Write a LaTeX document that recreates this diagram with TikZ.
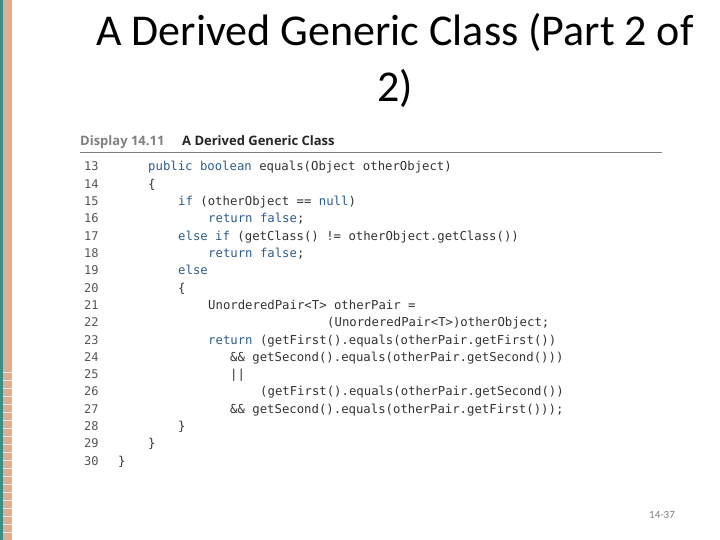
\documentclass[tikz,border=0pt]{standalone}
\usepackage{fontspec}
\setmainfont{Carlito}
\newfontfamily\codefont{DejaVu Sans Mono}
\newfontfamily\hdfont{Open Sans}
\definecolor{kw}{HTML}{2F5E8C}
\definecolor{tx}{HTML}{333333}
\definecolor{num}{HTML}{555555}
\definecolor{salmon}{HTML}{E2AC92}
\definecolor{teal}{HTML}{3E8E86}
\begin{document}
\begin{tikzpicture}[x=1pt,y=-1pt,
  code/.style={anchor=base west,inner sep=0,font=\codefont\fontsize{12.3}{12}\selectfont,text=tx},
  lnum/.style={anchor=base west,inner sep=0,font=\codefont\fontsize{12}{12}\selectfont,text=num}]
\useasboundingbox (0,0) rectangle (720,540);
\fill[white] (0,0) rectangle (720,540);
\fill[salmon] (2,0) rectangle (12,540);
\fill[teal] (0,0) rectangle (3,540);
\foreach \y in {372,380,...,536} \draw[white!80!salmon,line width=0.8] (3,\y) -- (12,\y);
\node[font=\fontsize{44}{48}\selectfont,text=black] (t1) at (395,32) {A Derived Generic Class (Part 2 of};
\node[font=\fontsize{44}{48}\selectfont,text=black] (t2) at (395,88) {2)};
\node[anchor=base west,inner sep=0,font=\hdfont\bfseries\fontsize{13}{14}\selectfont,text=gray] (d) at (80,146) {Display 14.11};
\node[anchor=base west,inner sep=0,font=\hdfont\bfseries\fontsize{13}{14}\selectfont,text=black!85] (h) at (182,146) {A Derived Generic Class};
\draw[gray,line width=1] (80,153) -- (662,153);
\foreach \n [count=\i from 0] in {13,...,30} \node[lnum] (n\n) at (84,{171+17.3*\i}) {\n};
\def\L#1#2#3{\node[code] (c#1) at (#2,{171+17.3*(#1-13)}) {#3};}
\L{13}{148}{\textcolor{kw}{public boolean} equals(Object otherObject)}
\L{14}{148}{\{}
\L{15}{178}{\textcolor{kw}{if} (otherObject == \textcolor{kw}{null})}
\L{16}{208}{\textcolor{kw}{return false};}
\L{17}{178}{\textcolor{kw}{else if} (getClass() != otherObject.getClass())}
\L{18}{208}{\textcolor{kw}{return false};}
\L{19}{178}{\textcolor{kw}{else}}
\L{20}{178}{\{}
\L{21}{208}{UnorderedPair<T> otherPair =}
\L{22}{327}{(UnorderedPair<T>)otherObject;}
\L{23}{208}{\textcolor{kw}{return} (getFirst().equals(otherPair.getFirst())}
\L{24}{230}{\&\& getSecond().equals(otherPair.getSecond()))}
\L{25}{230}{||}
\L{26}{260}{(getFirst().equals(otherPair.getSecond())}
\L{27}{230}{\&\& getSecond().equals(otherPair.getFirst()));}
\L{28}{178}{\}}
\L{29}{148}{\}}
\L{30}{118}{\}}
\node[font=\fontsize{11}{12}\selectfont,text=gray] (pg) at (662,515) {14-37};
\end{tikzpicture}
\end{document}
